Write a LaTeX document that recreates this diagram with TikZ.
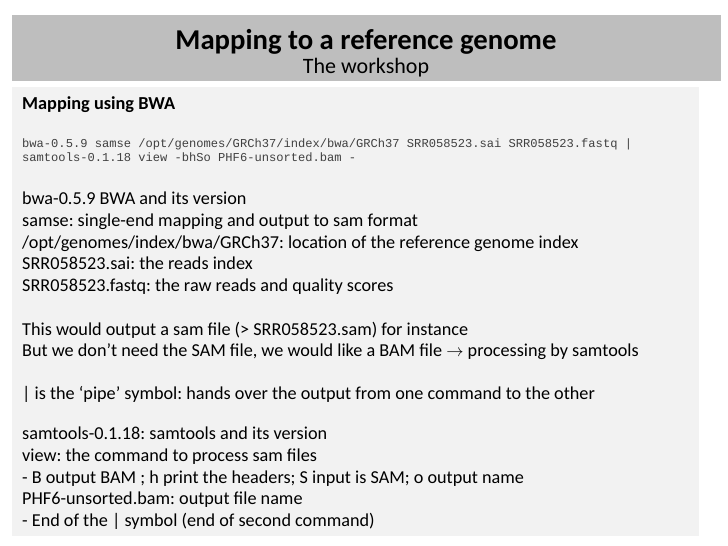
\documentclass[tikz,border=0pt]{standalone}
\usepackage{fontspec}
\setmainfont{Carlito}
\setmonofont{Liberation Mono}
\usetikzlibrary{positioning}
\frenchspacing
\definecolor{headgray}{HTML}{BEBEBE}
\definecolor{bodygray}{HTML}{F2F2F2}
\tikzset{
  line/.style={anchor=base west,inner sep=0pt,font=\fontsize{18.2}{21}\selectfont},
  code/.style={anchor=base west,inner sep=0pt,font=\fontsize{12.1}{15}\ttfamily\selectfont,text=black!75},
}
\begin{document}
\begin{tikzpicture}[x=1pt,y=-1pt]
\useasboundingbox (0,0) rectangle (728,546);
\fill [headgray] (12,15) rectangle (721,81);
\fill [bodygray] (12,87) rectangle (699,536);
\node (title) at (366,49) [anchor=base,inner sep=0pt,font=\fontsize{28.7}{32}\bfseries\selectfont] {Mapping to a reference genome};
\node (sub) at (366,73) [anchor=base,inner sep=0pt,font=\fontsize{22}{25}\selectfont] {The workshop};
\node (head) at (22,109) [line,font=\fontsize{18.3}{21}\bfseries\selectfont] {Mapping using BWA};
\node (cmda) at (22,147) [code] {bwa-0.5.9 samse /opt/genomes/GRCh37/index/bwa/GRCh37 SRR058523.sai SRR058523.fastq |};
\node (cmdb) at (22,161) [code] {samtools-0.1.18 view -bhSo PHF6-unsorted.bam -};
\node (la) at (22,204) [line] {bwa-0.5.9 BWA and its version};
\node (lb) at (22,226) [line] {samse: single-end mapping and output to sam format};
\node (lc) at (22,248) [line] {/opt/genomes/index/bwa/GRCh37: location of the reference genome index};
\node (ld) at (22,269) [line] {SRR058523.sai: the reads index};
\node (le) at (22,291) [line] {SRR058523.fastq: the raw reads and quality scores};
\node (lf) at (22,335) [line] {This would output a sam file (> SRR058523.sam) for instance};
\node (lg) at (22,356) [line] {But we don’t need the SAM file, we would like a BAM file \textbf{$\rightarrow$} processing by samtools};
\node (lh) at (22,399) [line] {| is the ‘pipe’ symbol: hands over the output from one command to the other};
\node (li) at (22,439) [line] {samtools-0.1.18: samtools and its version};
\node (lj) at (22,461) [line] {view: the command to process sam files};
\node (lk) at (22,483) [line] {- B output BAM ; h print the headers; S input is SAM; o output name};
\node (ll) at (22,504) [line] {PHF6-unsorted.bam: output file name};
\node (lm) at (22,526) [line] {- End of the | symbol (end of second command)};
\end{tikzpicture}
\end{document}
